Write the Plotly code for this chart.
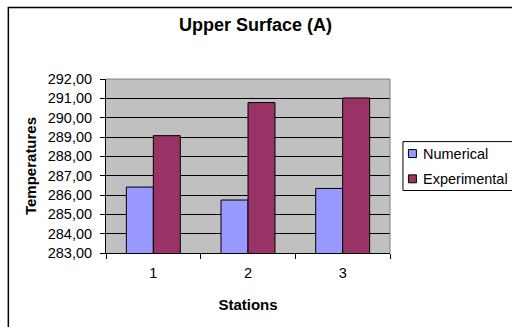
import plotly.graph_objects as go

stations = ["1", "2", "3"]
numerical = [286.41, 285.74, 286.34]
experimental = [289.07, 290.78, 291.02]
y_ticks = [283, 284, 285, 286, 287, 288, 289, 290, 291, 292]
series_names = ["Numerical", "Experimental"]
series_colors = ["#9999FF", "#993366"]

W, H = 512, 327
L, R, T, B = 105.5, 121.5, 79, 73.7
pw, ph = W - L - R, H - T - B

font = "Liberation Sans, Arial, sans-serif"

fig = go.Figure()
for name, vals, col in zip(series_names, [numerical, experimental], series_colors):
    fig.add_bar(x=stations, y=vals, name=name,
                marker=dict(color=col, line=dict(color="black", width=1)))

def px_x(p):
    return (p - L) / pw

def px_y(p):
    return (H - B - p) / ph

fig.update_layout(
    width=W, height=H,
    margin=dict(l=L, r=R, t=T, b=B, autoexpand=False),
    paper_bgcolor="white",
    plot_bgcolor="#C0C0C0",
    separators=", ",
    barmode="group",
    bargap=0.43,
    bargroupgap=0,
    showlegend=False,
    font=dict(family=font, size=14.5, color="black"),
    title=dict(text="<b>Upper Surface (A)</b>", x=255.5 / W, xanchor="center",
               y=1 - 25 / H, yanchor="middle", font=dict(size=18)),
    xaxis=dict(type="category", tickson="boundaries", ticks="outside", ticklen=5,
               tickcolor="black", showline=True, linecolor="black", linewidth=1,
               showgrid=False, ticklabelstandoff=7,
               title=dict(text="<b>Stations</b>", font=dict(size=15), standoff=19)),
    yaxis=dict(range=[283, 292], tickvals=y_ticks, tickformat=".2f",
               ticks="outside", ticklen=5, tickcolor="black",
               showline=True, linecolor="black", linewidth=1,
               showgrid=True, gridcolor="black", gridwidth=1,
               zeroline=False, ticklabelstandoff=5,
               title=dict(text="<b>Temperatures</b>", font=dict(size=15), standoff=7)),
)

# plot area border (top/right gray)
fig.add_shape(type="line", xref="paper", yref="paper", x0=0, x1=1, y0=1, y1=1,
              line=dict(color="#808080", width=1))
fig.add_shape(type="line", xref="paper", yref="paper", x0=1, x1=1, y0=0, y1=1,
              line=dict(color="#808080", width=1))
# chart outer border
fig.add_shape(type="rect", xref="paper", yref="paper",
              x0=px_x(7.5), x1=px_x(530), y0=px_y(7.5), y1=px_y(340),
              line=dict(color="black", width=1.5), fillcolor="rgba(0,0,0,0)")

# legend box
fig.add_shape(type="rect", xref="paper", yref="paper",
              x0=px_x(403.5), x1=px_x(530), y0=px_y(141.7), y1=px_y(190.7),
              line=dict(color="black", width=1), fillcolor="white")
legend_rows = [153.7, 179.0]
for name, col, yc in zip(series_names, series_colors, legend_rows):
    fig.add_shape(type="rect", xref="paper", yref="paper",
                  x0=px_x(409), x1=px_x(417), y0=px_y(yc + 4), y1=px_y(yc - 4),
                  line=dict(color="black", width=1), fillcolor=col)
    fig.add_annotation(text=name, xref="paper", yref="paper",
                       x=px_x(421.5), y=px_y(yc), xanchor="left", yanchor="middle",
                       showarrow=False, font=dict(size=14.5))

fig.write_html("out.html")
